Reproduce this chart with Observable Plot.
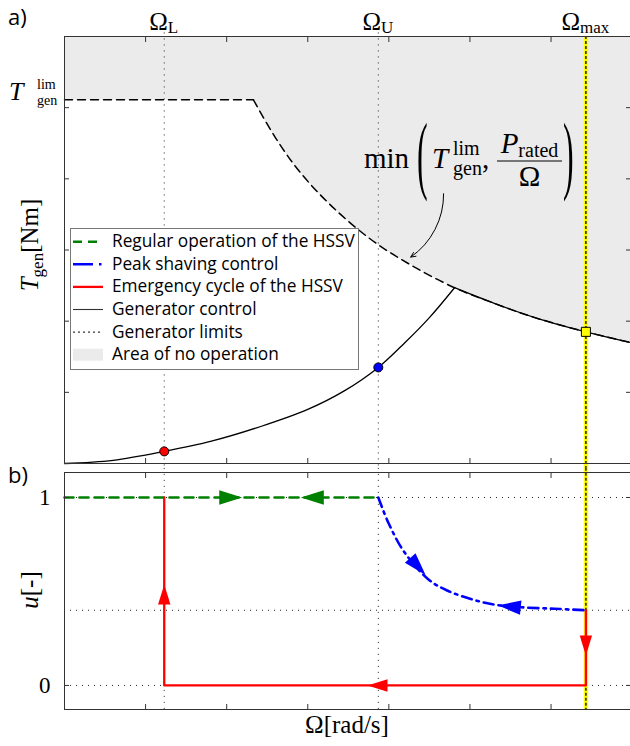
<!DOCTYPE html>
<html><head><meta charset="utf-8">
<script src="https://cdn.jsdelivr.net/npm/d3@7"></script>
<script src="https://cdn.jsdelivr.net/npm/@observablehq/plot@0.6"></script>
<style>
html,body{margin:0;padding:0;background:#fff;overflow:hidden}
#wrap{position:relative;width:630px;height:746px;}
#wrap > svg{position:absolute;left:0}
</style></head>
<body><div id="wrap"></div>
<script>
// ---------- data ----------
const omegaTicks = [1, 2, 3, 4, 5, 6];
const torqueTicks = [1, 2, 3, 4, 5];
const uTicks = [0, 1];
const uGrid = [0, 0.4, 1];
const omegaDomain = [0, 6.98];
const torqueDomain = [0, 6];
const uDomain = [-0.128, 1.133];

const OMEGA_L = 1.23, OMEGA_U = 3.87, OMEGA_MAX = 6.43;
const omegaLines = [OMEGA_L, OMEGA_U];
const omegaLabelNames = ["L", "U", "max"];
const omegaLabelValues = [OMEGA_L, OMEGA_U, OMEGA_MAX];

// generator torque limit  min(T_lim, P_rated / Omega)
const limOmega  = [0, 2.33, 2.6, 2.9, 3.3, 3.8, 4.3, 4.81, 5.3, 5.8, 6.43, 6.98];
const limTorque = [5.11, 5.11, 4.58, 4.10, 3.61, 3.13, 2.77, 2.47, 2.25, 2.05, 1.85, 1.70];
// generator control (rising part up to the limit)
const genOmega  = [0, 0.6, 1.23, 1.8, 2.42, 3.0, 3.45, 3.87, 4.2, 4.5, 4.81];
const genTorque = [0, 0.045, 0.17, 0.31, 0.52, 0.76, 1.02, 1.35, 1.70, 2.05, 2.47];
const KINK_OMEGA = 4.81;
// markers on the torque curve
const markerOmega  = [OMEGA_L, OMEGA_U];
const markerTorque = [0.17, 1.35];
const maxMarkerOmega = [OMEGA_MAX], maxMarkerTorque = [1.85];
// annotation arrow
const noteFrom = [4.675, 3.79], noteTo = [4.27, 2.90];

// panel b
const regularOmega = [0, OMEGA_U], regularU = [1, 1];
const peakOmega = [3.87, 4.0, 4.19, 4.5, 4.72, 5.01, 5.3, 5.63, 6.04, 6.43];
const peakU     = [1.0, 0.86, 0.71, 0.56, 0.505, 0.46, 0.43, 0.416, 0.408, 0.40];
const emergOmega = [OMEGA_L, OMEGA_L, OMEGA_MAX, OMEGA_MAX];
const emergU     = [1, 0, 0, 0.4];
const greenArrowOmega = [2.05, 3.056], greenArrowU = [1, 1], greenArrowDir = [90, 270];
const blueArrowOmega  = [4.358, 5.485], blueArrowU = [0.633, 0.42], blueArrowDir = [138, 276];
const redArrowOmega   = [OMEGA_L, 3.86, OMEGA_MAX], redArrowU = [0.484, 0, 0.213], redArrowDir = [0, 270, 180];

const legendLabels = ["Regular operation of the HSSV", "Peak shaving control", "Emergency cycle of the HSSV",
  "Generator control", "Generator limits", "Area of no operation"];

// ---------- tables ----------
const zip = (xs, ys, k1, k2) => xs.map((v, i) => ({[k1]: v, [k2]: ys[i]}));
const lim = zip(limOmega, limTorque, "o", "t");
const limFlat = lim.filter(d => d.o <= 2.33);
const limCurve = lim.filter(d => d.o >= 2.33);
const limAfterKink = lim.filter(d => d.o >= KINK_OMEGA);
const gen = zip(genOmega, genTorque, "o", "t");
const markers = zip(markerOmega, markerTorque, "o", "t");
const maxMarker = zip(maxMarkerOmega, maxMarkerTorque, "o", "t");
const note = [{x1: noteFrom[0], y1: noteFrom[1], x2: noteTo[0], y2: noteTo[1]}];
const regular = zip(regularOmega, regularU, "o", "u");
const peak = zip(peakOmega, peakU, "o", "u");
const emerg = zip(emergOmega, emergU, "o", "u");
const arrows = (os, us, ds) => os.map((o, i) => ({o, u: us[i], dir: ds[i]}));
const greenArrows = arrows(greenArrowOmega, greenArrowU, greenArrowDir);
const blueArrows = arrows(blueArrowOmega, blueArrowU, blueArrowDir);
const redArrows = arrows(redArrowOmega, redArrowU, redArrowDir);

// ---------- styles ----------
const SERIF = "'Liberation Serif','Times New Roman',serif";
const SANS = "'Open Sans','Noto Sans',sans-serif";
const FRAME = "#333";
const GREY = "#ebebeb";
const dotted = {stroke: "#222", strokeWidth: 1, strokeDasharray: "1,5"};
const GREEN = "#008000", BLUE = "#0000ff", RED = "#ff0000";
const arrowHead = {draw(ctx, size) {
  const r = Math.sqrt(size / Math.PI), w = 0.62 * r;
  ctx.moveTo(0, -r); ctx.lineTo(w, r); ctx.lineTo(-w, r); ctx.closePath();
}};
const common = {width: 630, marginLeft: 64, marginRight: 0, x: {domain: omegaDomain},
  style: {background: "transparent", overflow: "visible"}};
const ticksAxes = (yt) => [
  Plot.axisX({anchor: "bottom", ticks: omegaTicks, tickSize: 5, dy: -5, tickFormat: () => "", label: null, stroke: FRAME}),
  Plot.axisX({anchor: "top", ticks: omegaTicks, tickSize: 5, dy: 5, tickFormat: () => "", label: null, stroke: FRAME}),
  Plot.axisY({anchor: "left", ticks: yt, tickSize: 5, dx: 5, tickFormat: () => "", label: null, stroke: FRAME}),
  Plot.axisY({anchor: "right", ticks: yt, tickSize: 5, dx: -5, tickFormat: () => "", label: null, stroke: FRAME})
];
const yellowLine = (y1, y2) => [
  Plot.ruleX([OMEGA_MAX], {y1, y2, stroke: "#ffff00", strokeWidth: 4.5}),
  Plot.ruleX([OMEGA_MAX], {y1, y2, stroke: "#000", strokeWidth: 1.3, strokeDasharray: "3,2"})
];

// ---------- panel a ----------
const plotA = Plot.plot({
  ...common, height: 468, marginTop: 36, marginBottom: 5,
  y: {domain: torqueDomain},
  marks: [
    Plot.areaY(limFlat, {x: "o", y1: "t", y2: torqueDomain[1], fill: GREY}),
    Plot.areaY(limCurve, {x: "o", y1: "t", y2: torqueDomain[1], fill: GREY, curve: "catmull-rom"}),
    Plot.ruleX(omegaLines, {y1: 6.05, y2: -0.07, ...dotted}),
    ...yellowLine(torqueDomain[1], -0.07),
    Plot.line(limFlat, {x: "o", y: "t", stroke: "#000", strokeWidth: 1.5, strokeDasharray: "8,5"}),
    Plot.line(limCurve, {x: "o", y: "t", stroke: "#000", strokeWidth: 1.5, strokeDasharray: "8,5", curve: "catmull-rom"}),
    Plot.line(gen, {x: "o", y: "t", stroke: "#000", strokeWidth: 1.3, curve: "catmull-rom"}),
    Plot.line(limAfterKink, {x: "o", y: "t", stroke: "#000", strokeWidth: 1.3, curve: "catmull-rom"}),
    Plot.ruleX([0], {stroke: FRAME}),
    Plot.ruleY(torqueDomain, {stroke: FRAME}),
    ...ticksAxes(torqueTicks),
    Plot.arrow(note, {x1: "x1", y1: "y1", x2: "x2", y2: "y2", bend: 28, stroke: "#000", strokeWidth: 1, headLength: 8, headAngle: 50}),
    Plot.dot(markers, {x: "o", y: "t", r: 4.5, fill: [RED, BLUE], stroke: "#000", strokeWidth: 1}),
    Plot.dot(maxMarker, {x: "o", y: "t", r: 5.1, symbol: "square", fill: "#ffff00", stroke: "#000", strokeWidth: 1})
  ]
});
plotA.style.top = "0px";

// ---------- panel b ----------
const plotB = Plot.plot({
  ...common, height: 278, marginTop: 4, marginBottom: 37,
  y: {domain: uDomain},
  marks: [
    Plot.ruleY(uGrid, dotted),
    Plot.ruleX(omegaLines, {y1: 1.155, y2: uDomain[0], ...dotted}),
    ...yellowLine(1.155, uDomain[0]),
    Plot.line(regular, {x: "o", y: "u", stroke: GREEN, strokeWidth: 2.6, strokeDasharray: "9,6"}),
    Plot.line(peak, {x: "o", y: "u", stroke: BLUE, strokeWidth: 2.6, strokeDasharray: "10,5,2.5,5", curve: "catmull-rom"}),
    Plot.line(emerg, {x: "o", y: "u", stroke: RED, strokeWidth: 2.3}),
    Plot.dot(greenArrows, {x: "o", y: "u", rotate: "dir", symbol: arrowHead, r: 11.5, fill: GREEN, stroke: "none"}),
    Plot.dot(blueArrows, {x: "o", y: "u", rotate: "dir", symbol: arrowHead, r: 11.5, fill: BLUE, stroke: "none"}),
    Plot.dot(redArrows, {x: "o", y: "u", rotate: "dir", symbol: arrowHead, r: 10, fill: RED, stroke: "none"}),
    Plot.ruleX([0], {stroke: FRAME}),
    Plot.ruleY(uDomain, {stroke: FRAME}),
    ...ticksAxes(uTicks),
    Plot.axisY({anchor: "left", ticks: uTicks, tickSize: 0, tickPadding: 14, tickFormat: d => String(d),
      fontSize: 23, fontFamily: SERIF, label: null, fill: "#000"})
  ]
});
plotB.style.top = "468px";

const wrap = document.getElementById("wrap");
wrap.appendChild(plotA);
wrap.appendChild(plotB);

// ---------- text overlay ----------
const xA = plotA.scale("x");
const ov = d3.select(wrap).append("svg").attr("width", 630).attr("height", 746)
  .style("top", "0px").style("pointer-events", "none");

function math(x, y, parts, size, anchor = "start", transform = null, family = SERIF) {
  const t = ov.append("text").attr("x", x).attr("y", y).attr("font-family", family)
    .attr("font-size", size).attr("text-anchor", anchor).attr("fill", "#000");
  if (transform) t.attr("transform", transform);
  let shift = 0;
  for (const p of parts) {
    const sp = t.append("tspan").text(p.t);
    if (p.i) sp.attr("font-style", "italic");
    if (p.s) sp.attr("font-size", p.s);
    const target = p.sub || 0;
    if (target - shift) sp.attr("dy", target - shift);
    shift = target;
  }
  return t;
}

// panel letters
math(8, 25, [{t: "a)"}], 22, "start", null, SANS);
math(8, 483, [{t: "b)"}], 22, "start", null, SANS);

// top Omega labels
omegaLabelNames.forEach((n, i) => {
  math(xA.apply(omegaLabelValues[i]), 30, [{t: "Ω"}, {t: n, s: 17, sub: 3}], 25, "middle");
});

// T_gen^lim tick label
math(9, 100, [{t: "T", i: true}], 26);
math(37, 89, [{t: "lim"}], 14);
math(37, 105, [{t: "gen"}], 14);

// axis titles
math(38, 245, [{t: "T", i: true}, {t: "gen", s: 17, sub: 5}, {t: "[Nm]", sub: 0}], 25, "middle", "rotate(-90 38 245)");
math(38, 590, [{t: "u", i: true}, {t: "[-]"}], 25, "middle", "rotate(-90 38 590)");
math(347, 733, [{t: "Ω[rad/s]"}], 25, "middle");

// annotation  min(T_gen^lim, P_rated / Ω)
math(364, 168, [{t: "min"}], 29);
ov.append("text").text("(").attr("font-family", SERIF).attr("font-size", 32)
  .attr("transform", "translate(417,183) scale(1,2.7)");
math(432, 168, [{t: "T", i: true}], 29);
math(453, 155, [{t: "lim"}], 20);
math(453, 175, [{t: "gen"}], 20);
math(482, 168, [{t: ","}], 29);
math(529.5, 153, [{t: "P", i: true}, {t: "rated", s: 20, sub: 4}], 29, "middle");
ov.append("line").attr("x1", 497).attr("x2", 562).attr("y1", 161).attr("y2", 161).attr("stroke", "#000").attr("stroke-width", 1);
math(529.5, 186, [{t: "Ω"}], 29, "middle");
ov.append("text").text(")").attr("font-family", SERIF).attr("font-size", 32)
  .attr("transform", "translate(563,183) scale(1,2.7)");

// legend
const lg = ov.append("g");
lg.append("rect").attr("x", 70.5).attr("y", 228.5).attr("width", 288).attr("height", 141)
  .attr("fill", "#fff").attr("stroke", "#777").attr("stroke-width", 1);
const rowY = i => 241.7 + 22.6 * i;
const swatches = [
  {stroke: GREEN, w: 2.6, dash: "9,6"},
  {stroke: BLUE, w: 2.6, dash: "20,6,2.5,6"},
  {stroke: RED, w: 2.3, dash: null},
  {stroke: "#333", w: 1.1, dash: null},
  {stroke: "#000", w: 1, dash: "2,3"},
  null
];
const texts = [];
legendLabels.forEach((lab, i) => {
  const y = rowY(i);
  const s = swatches[i];
  if (s) {
    lg.append("line").attr("x1", 73).attr("x2", 103).attr("y1", y).attr("y2", y)
      .attr("stroke", s.stroke).attr("stroke-width", s.w).attr("stroke-dasharray", s.dash);
  } else {
    lg.append("rect").attr("x", 73).attr("y", y - 6).attr("width", 30).attr("height", 12).attr("fill", GREY);
  }
  texts.push(lg.append("text").attr("x", 112).attr("y", y + 5.5).attr("font-family", SANS)
    .attr("font-size", 16).attr("fill", "#000").text(lab));
});
// fit legend font so the first row spans its width in the reference
const len0 = texts[0].node().getComputedTextLength();
if (len0 > 0) {
  const fs = Math.max(12, Math.min(19, 16 * 243 / len0));
  texts.forEach(t => t.attr("font-size", fs));
}
</script>
</body></html>
